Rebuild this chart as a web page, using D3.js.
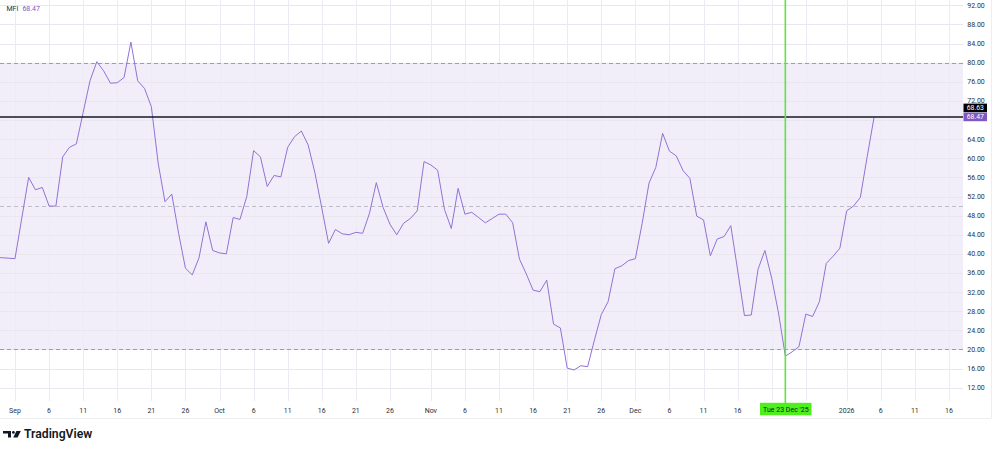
<!DOCTYPE html>
<html>
<head>
<meta charset="utf-8">
<script src="https://cdn.jsdelivr.net/npm/d3@7"></script>
<style>
  html, body { margin: 0; padding: 0; background: #ffffff; }
  svg { display: block; }
  text { font-family: Roboto, "Liberation Sans", sans-serif; }
</style>
</head>
<body>
<svg id="chart" width="997" height="451"></svg>
<script>
// ---------- DATA ----------
const seriesStart = "2025-08-29"; // first daily bar (partly off-screen at left)
const mfiValues = [
  39.2, 39.2, 39.1, 39.0, 47.5, 56.0, 53.4, 53.9, 50.0, 50.0,
  60.3, 62.3, 63.0, 69.6, 76.2, 80.2, 78.3, 75.7, 75.8, 76.9,
  84.3, 76.2, 74.6, 70.8, 59.0, 50.9, 52.5, 44.3, 37.0, 35.6,
  39.2, 46.7, 40.7, 40.2, 40.0, 47.6, 47.2, 52.0, 61.6, 60.3,
  54.1, 56.4, 56.1, 62.3, 64.5, 65.7, 62.8, 56.9, 49.6, 42.2,
  45.1, 44.2, 44.0, 44.5, 44.3, 48.5, 54.9, 49.7, 46.2, 44.0,
  46.4, 47.4, 49.0, 59.3, 58.6, 57.5, 49.3, 45.3, 53.7, 48.3,
  48.7, 47.6, 46.5, 47.4, 48.3, 48.3, 46.5, 38.9, 35.8, 32.4,
  32.1, 34.5, 25.3, 24.5, 16.1, 15.7, 16.6, 16.4, 22.0, 27.3,
  30.0, 36.9, 37.5, 38.6, 39.0, 46.4, 54.8, 58.1, 65.2, 61.5,
  60.5, 57.4, 55.8, 47.9, 47.1, 39.6, 43.1, 43.6, 45.9, 36.6,
  27.1, 27.2, 36.8, 40.7, 34.9, 27.6, 18.6, 19.5, 20.6, 27.4,
  26.9, 30.0, 38.0, 39.5, 41.2, 49.0, 50.0, 51.8, 60.3, 68.47
];
const lastValue = 68.47;
const refLineValue = 68.63;
const bandUpper = 80, bandMiddle = 50, bandLower = 20;
const yTickValues = [12,16,20,24,28,32,36,40,44,48,52,56,60,64,68,72,76,80,84,88,92];
const yHiddenLabels = [68]; // covered by the price tags in the reference
const xTickDates = [
  "2025-09-01","2025-09-06","2025-09-11","2025-09-16","2025-09-21","2025-09-26",
  "2025-10-01","2025-10-06","2025-10-11","2025-10-16","2025-10-21","2025-10-26",
  "2025-11-01","2025-11-06","2025-11-11","2025-11-16","2025-11-21","2025-11-26",
  "2025-12-01","2025-12-06","2025-12-11","2025-12-16","2025-12-21","2025-12-26",
  "2026-01-01","2026-01-06","2026-01-11","2026-01-16"
];
// empty labels are covered by the crosshair time label in the reference
const xTickLabels = [
  "Sep","6","11","16","21","26",
  "Oct","6","11","16","21","26",
  "Nov","6","11","16","21","26",
  "Dec","6","11","16","","",
  "2026","6","11","16"
];
const crosshairDate = "2025-12-23";
const crosshairLabel = "Tue 23 Dec '25";

// ---------- LAYOUT ----------
const W = 997, H = 451;
const plot = { left: 0, right: 963, top: 0, bottom: 401 };
const purple = "#7E57C2";

const svg = d3.select("#chart");
svg.append("rect").attr("width", W).attr("height", H).attr("fill", "#ffffff");

const parse = d3.utcParse("%Y-%m-%d");
const startDate = parse(seriesStart);
const dates = mfiValues.map((_, i) => d3.utcDay.offset(startDate, i));
const data = mfiValues.map((v, i) => ({ date: dates[i], value: v }));

const x = d3.scaleUtc()
  .domain([parse("2025-09-01"), parse("2026-01-01")])
  .range([15, 846.7]);
const y = d3.scaleLinear().domain([12, 92]).range([387.7, 5.3]);

// clip
svg.append("defs").append("clipPath").attr("id", "clip")
  .append("rect").attr("x", plot.left).attr("y", plot.top)
  .attr("width", plot.right - plot.left).attr("height", plot.bottom - plot.top);

// band fill
svg.append("rect")
  .attr("x", plot.left).attr("width", plot.right - plot.left)
  .attr("y", y(bandUpper)).attr("height", y(bandLower) - y(bandUpper))
  .attr("fill", "rgba(126,87,194,0.1)");

// grid
const grid = svg.append("g").attr("clip-path", "url(#clip)");
grid.selectAll("line.h").data(yTickValues).join("line")
  .attr("x1", plot.left).attr("x2", plot.right)
  .attr("y1", d => Math.round(y(d)) + 0.5).attr("y2", d => Math.round(y(d)) + 0.5)
  .attr("stroke", "#e9e6f0").attr("stroke-width", 1);
grid.selectAll("line.v").data(xTickDates).join("line")
  .attr("x1", d => Math.round(x(parse(d))) + 0.5).attr("x2", d => Math.round(x(parse(d))) + 0.5)
  .attr("y1", plot.top).attr("y2", plot.bottom)
  .attr("stroke", "#eceaf2").attr("stroke-width", 1);

// dashed band lines
svg.selectAll("line.band").data([bandUpper, bandMiddle, bandLower]).join("line")
  .attr("x1", plot.left).attr("x2", plot.right)
  .attr("y1", d => Math.round(y(d)) + 0.5).attr("y2", d => Math.round(y(d)) + 0.5)
  .attr("stroke", "#9598a1").attr("stroke-width", 1)
  .attr("stroke-dasharray", "4,3")
  .attr("opacity", d => d === bandMiddle ? 0.55 : 0.9);

// MFI line
const line = d3.line().x(d => x(d.date)).y(d => y(d.value));
svg.append("path").datum(data)
  .attr("clip-path", "url(#clip)")
  .attr("d", line)
  .attr("fill", "none")
  .attr("stroke", "#9272d4")
  .attr("stroke-width", 1)
  .attr("stroke-linejoin", "round");

// horizontal black reference line
svg.append("line")
  .attr("x1", plot.left).attr("x2", plot.right)
  .attr("y1", y(refLineValue)).attr("y2", y(refLineValue))
  .attr("stroke", "#131722").attr("stroke-width", 1.6);

// crosshair vertical green line
const cx = x(parse(crosshairDate));
svg.append("line")
  .attr("x1", cx).attr("x2", cx)
  .attr("y1", 0).attr("y2", plot.bottom + 2)
  .attr("stroke", "#5ce639").attr("stroke-width", 1.6);

// right price scale labels
const fs = 7;
svg.append("g").selectAll("text")
  .data(yTickValues.filter(v => !yHiddenLabels.includes(v))).join("text")
  .attr("x", 976).attr("y", d => y(d))
  .attr("dy", "0.35em")
  .attr("text-anchor", "middle")
  .attr("font-size", fs)
  .attr("fill", "#2a2e39")
  .text(d => d.toFixed(2));

// price tags
const tagRef = svg.append("g");
tagRef.append("rect").attr("x", 963.5).attr("y", 103.6).attr("width", 23.5).attr("height", 8.6)
  .attr("fill", "#000000");
tagRef.append("text").attr("x", 975.3).attr("y", 107.9).attr("dy", "0.33em")
  .attr("text-anchor", "middle").attr("font-size", 6.8).attr("fill", "#ffffff")
  .text(refLineValue.toFixed(2));
const tagLast = svg.append("g");
tagLast.append("rect").attr("x", 963.5).attr("y", 112.6).attr("width", 23.5).attr("height", 8.6)
  .attr("fill", purple);
tagLast.append("text").attr("x", 975.3).attr("y", 117.1).attr("dy", "0.33em")
  .attr("text-anchor", "middle").attr("font-size", 6.8).attr("fill", "#ffffff")
  .text(lastValue.toFixed(2));

// x axis labels
svg.append("g").selectAll("text")
  .data(xTickDates.map((d, i) => ({ d, label: xTickLabels[i] })).filter(t => t.label !== ""))
  .join("text")
  .attr("x", t => x(parse(t.d)))
  .attr("y", 410.5).attr("dy", "0.35em")
  .attr("text-anchor", "middle")
  .attr("font-size", fs)
  .attr("fill", "#2a2e39")
  .text(t => t.label);

// crosshair time label
svg.append("rect").attr("x", 760).attr("y", 402.8).attr("width", 51.5).attr("height", 12.4)
  .attr("fill", "#4ef01c");
svg.append("text").attr("x", cx + 0.5).attr("y", 409.2).attr("dy", "0.35em")
  .attr("text-anchor", "middle").attr("font-size", fs).attr("fill", "#131722")
  .text(crosshairLabel);

// borders
svg.append("line").attr("x1", 0).attr("x2", 991).attr("y1", 418.5).attr("y2", 418.5)
  .attr("stroke", "#eceef2").attr("stroke-width", 1);
svg.append("line").attr("x1", 991.5).attr("x2", 991.5).attr("y1", 0).attr("y2", 418.5)
  .attr("stroke", "#eceef2").attr("stroke-width", 1);

// legend
const legend = svg.append("text").attr("x", 6.5).attr("y", 10.5).attr("font-size", fs);
legend.append("tspan").attr("fill", "#2a2e39").text("MFI");
legend.append("tspan").attr("dx", 4).attr("fill", purple).text(lastValue.toFixed(2));

// TradingView watermark
const logo = svg.append("g").attr("fill", "#131722");
logo.append("path").attr("d", "M3,431 H11 V437.6 H8 V433.6 H3 Z");
logo.append("circle").attr("cx", 13.4).attr("cy", 432.4).attr("r", 1.4);
logo.append("path").attr("d", "M16.4,431 H20.8 L17.6,437.6 H13.3 Z");
svg.append("text").attr("x", 24).attr("y", 438.2)
  .attr("font-size", 12.2).attr("font-weight", 600).attr("fill", "#131722")
  .text("TradingView");
</script>
</body>
</html>
